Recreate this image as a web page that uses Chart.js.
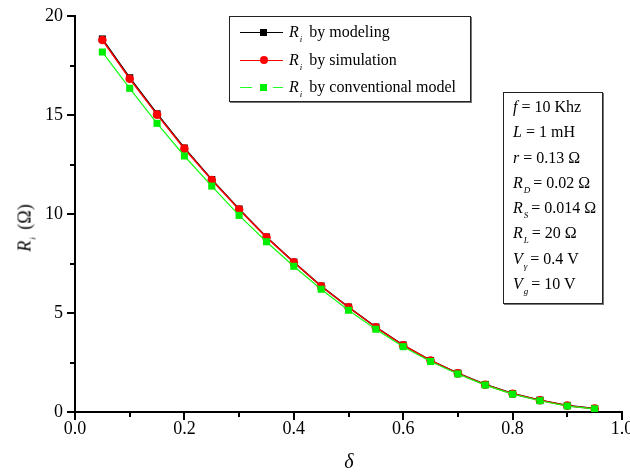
<!DOCTYPE html>
<html>
<head>
<meta charset="utf-8">
<script src="https://cdn.jsdelivr.net/npm/chart.js@4.4.1/dist/chart.umd.min.js"></script>
<style>
  body { margin: 0; background: #fff; }
  #wrap { position: relative; width: 630px; height: 472px; font-family: "Liberation Serif", "Times New Roman", serif; color: #000; }
  #wrap canvas { position: absolute; left: 0; top: 0; }
  .box { position: absolute; background: #fff; border: 1px solid #222; box-shadow: 1px 1px 0 #777; }
  #legend { left: 229px; top: 16px; width: 240px; height: 84px; font-size: 16px; }
  .row { position: absolute; left: 0; height: 20px; width: 100%; }
  .row .txt { position: absolute; left: 59px; top: 0; line-height: 20px; white-space: nowrap; }
  .seg { position: absolute; height: 1px; top: 10px; }
  .mk { position: absolute; }
  #params { left: 503px; top: 92px; width: 98px; height: 209px; font-size: 16px; padding-top: 1px; }
  #params div { height: 25.3px; line-height: 25px; padding-left: 9px; white-space: nowrap; }
  .sb { font-size: 9px; font-style: italic; position: relative; top: 5px; margin-left: 1px; margin-right: 3px; }
  #ytitle { position: absolute; left: 25px; top: 228px; transform: translate(-50%, -50%) rotate(-90deg); font-size: 18px; white-space: nowrap; }
  #xtitle { position: absolute; left: 349px; top: 461px; transform: translate(-50%, -50%); font-size: 20px; font-style: italic; }
</style>
</head>
<body>
<div id="wrap">
  <canvas id="chart" width="630" height="472"></canvas>

  <div id="ytitle"><i>R</i><span class="sb">i</span> (Ω)</div>
  <div id="xtitle">δ</div>

  <div id="legend" class="box">
    <div class="row" style="top:5px">
      <div class="seg" style="left:10px;width:43px;background:#000"></div>
      <div class="mk" style="left:30px;top:6.5px;width:7px;height:7px;background:#000"></div>
      <div class="txt"><i>R</i><span class="sb">i</span> by modeling</div>
    </div>
    <div class="row" style="top:33px">
      <div class="seg" style="left:10px;width:43px;background:#f00"></div>
      <div class="mk" style="left:29.5px;top:6px;width:8px;height:8px;border-radius:50%;background:#f00"></div>
      <div class="txt"><i>R</i><span class="sb">i</span> by simulation</div>
    </div>
    <div class="row" style="top:60px">
      <div class="seg" style="left:10px;width:12px;background:#2f2"></div>
      <div class="seg" style="left:43px;width:10px;background:#2f2"></div>
      <div class="mk" style="left:30px;top:6.5px;width:7px;height:7px;background:#0e0"></div>
      <div class="txt"><i>R</i><span class="sb">i</span> by conventional model</div>
    </div>
  </div>

  <div id="params" class="box">
    <div><i>f</i> = 10 Khz</div>
    <div><i>L</i> = 1 mH</div>
    <div><i>r</i> = 0.13 Ω</div>
    <div><i>R</i><span class="sb">D</span>= 0.02 Ω</div>
    <div><i>R</i><span class="sb">S</span>= 0.014 Ω</div>
    <div><i>R</i><span class="sb">L</span>= 20 Ω</div>
    <div><i>V</i><span class="sb">γ</span>= 0.4 V</div>
    <div><i>V</i><span class="sb">g</span>= 10 V</div>
  </div>
</div>

<script>
// duty ratio
const deltaValues = [0.05, 0.10, 0.15, 0.20, 0.25, 0.30, 0.35, 0.40, 0.45, 0.50,
                     0.55, 0.60, 0.65, 0.70, 0.75, 0.80, 0.85, 0.90, 0.95];

// Ri (ohm)
const modelingValues = [18.84, 16.88, 15.06, 13.33, 11.74, 10.25, 8.84, 7.57, 6.36, 5.30,
                        4.29, 3.38, 2.60, 1.96, 1.39, 0.93, 0.60, 0.33, 0.18];
const simulationValues = [18.79, 16.83, 15.02, 13.30, 11.72, 10.23, 8.82, 7.56, 6.35, 5.29,
                          4.28, 3.37, 2.60, 1.95, 1.38, 0.92, 0.59, 0.32, 0.17];
const conventionalValues = [18.18, 16.35, 14.58, 12.93, 11.41, 9.93, 8.60, 7.36, 6.20, 5.14,
                            4.18, 3.30, 2.55, 1.92, 1.36, 0.90, 0.57, 0.30, 0.16];

const xMin = 0, xMax = 1.0, xStep = 0.1;
const yMin = 0, yMax = 20, yStep = 2.5;

const toPoints = vals => vals.map((v, i) => ({ x: deltaValues[i], y: v }));
const tickFont = { family: 'Liberation Serif', size: 18 };

// ticks: long for labelled (major), short for the others
const tickMarks = {
  id: 'tickMarks',
  afterDraw(chart) {
    const ctx = chart.ctx;
    const xs = chart.scales.x, ys = chart.scales.y;
    ctx.save();
    ctx.strokeStyle = '#000';
    ctx.lineWidth = 2;
    xs.ticks.forEach(t => {
      const px = Math.round(xs.getPixelForValue(t.value));
      const len = t.label ? 8 : 5;
      ctx.beginPath();
      ctx.moveTo(px, xs.top);
      ctx.lineTo(px, xs.top + len);
      ctx.stroke();
    });
    ys.ticks.forEach(t => {
      const py = Math.round(ys.getPixelForValue(t.value));
      const len = t.label ? 8 : 5;
      ctx.beginPath();
      ctx.moveTo(ys.right, py);
      ctx.lineTo(ys.right - len, py);
      ctx.stroke();
    });
    ctx.restore();
  }
};

new Chart(document.getElementById('chart'), {
  type: 'line',
  data: {
    datasets: [
      {
        label: 'Ri by modeling',
        data: toPoints(modelingValues),
        borderColor: '#000',
        borderWidth: 1.5,
        pointStyle: 'rect',
        pointRadius: 5,
        pointBackgroundColor: '#000',
        pointBorderWidth: 0,
        order: 3
      },
      {
        label: 'Ri by simulation',
        data: toPoints(simulationValues),
        borderColor: '#ff0000',
        borderWidth: 1.5,
        pointStyle: 'circle',
        pointRadius: 4.3,
        pointBackgroundColor: '#ff0000',
        pointBorderWidth: 0,
        order: 2
      },
      {
        label: 'Ri by conventional model',
        data: toPoints(conventionalValues),
        borderColor: '#11ff11',
        borderWidth: 1.2,
        pointStyle: 'rect',
        pointRadius: 5,
        pointBackgroundColor: '#00ee00',
        pointBorderWidth: 0,
        order: 1
      }
    ]
  },
  options: {
    responsive: false,
    animation: false,
    events: [],
    layout: { padding: { top: 16, right: 8, left: 0, bottom: 0 } },
    plugins: {
      legend: { display: false },
      tooltip: { enabled: false },
      title: { display: false }
    },
    scales: {
      x: {
        type: 'linear',
        min: xMin,
        max: xMax,
        grid: { display: true, drawOnChartArea: false, drawTicks: false },
        border: { display: true, color: '#000', width: 2 },
        ticks: {
          stepSize: xStep,
          autoSkip: false,
          maxRotation: 0,
          padding: 6,
          color: '#000',
          font: tickFont,
          callback: v => (Math.round(v * 10) % 2 === 0 ? v.toFixed(1) : '')
        },
        afterFit: s => { s.height = 60; s.paddingLeft = 0; s.paddingRight = 0; }
      },
      y: {
        min: yMin,
        max: yMax,
        grid: { display: true, drawOnChartArea: false, drawTicks: false },
        border: { display: true, color: '#000', width: 2 },
        ticks: {
          stepSize: yStep,
          autoSkip: false,
          padding: 12,
          color: '#000',
          font: tickFont,
          callback: v => (v % 5 === 0 ? String(v) : '')
        },
        afterFit: s => { s.width = 75; s.paddingTop = 0; s.paddingBottom = 0; }
      }
    }
  },
  plugins: [tickMarks]
});
</script>
</body>
</html>
